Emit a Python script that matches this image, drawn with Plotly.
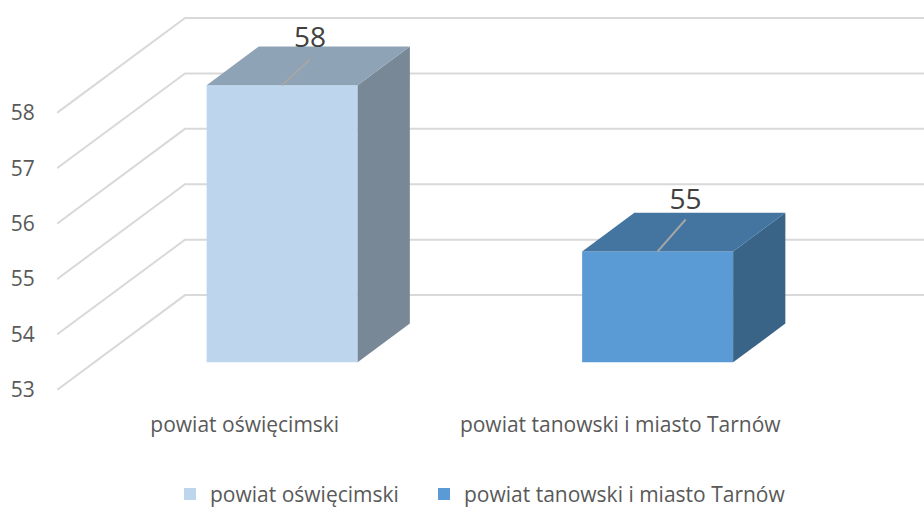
import plotly.graph_objects as go

categories = ["powiat oświęcimski", "powiat tanowski i miasto Tarnów"]
values = [58, 55]
y_ticks = [53, 54, 55, 56, 57, 58]
front_colors = ["#BDD6EE", "#5B9BD5"]
top_colors = ["#8EA3B6", "#4475A1"]
side_colors = ["#798896", "#3A6487"]

W, H = 924, 507
PX_L, PX_B = 57, 390.5
PX_PER_CAT = 375.5
PX_PER_UNIT = 55.5
# The oblique projection of the depth axis, in axis units
DX = 128 / PX_PER_CAT
DY = 95 / PX_PER_UNIT
BAR_W = 151 / PX_PER_CAT
D_FRONT, D_BACK = 0.292, 0.70
BASE = y_ticks[0]
LEGEND_LEFT_PX = [170, 424]
LEGEND_IDS = ["legend", "legend2"]


def proj(cat, val, depth):
    return cat + depth * DX, val + depth * DY


fig = go.Figure()

# Wall grid lines, kept below the bars
x_end = 1.5
for t in y_ticks:
    a = proj(-0.5, t, 0)
    b = proj(-0.5, t, 1)
    c = proj(x_end, t, 1)
    fig.add_shape(type="path", path=f"M {a[0]} {a[1]} L {b[0]} {b[1]} L {c[0]} {c[1]}",
                  line=dict(color="#D9D9D9", width=2), layer="below", xref="x", yref="y")

for i, (name, v) in enumerate(zip(categories, values)):
    xl = i - BAR_W / 2
    xr = i + BAR_W / 2
    # side face
    pts = [proj(xr, BASE, D_FRONT), proj(xr, BASE, D_BACK), proj(xr, v, D_BACK), proj(xr, v, D_FRONT)]
    fig.add_trace(go.Scatter(x=[p[0] for p in pts], y=[p[1] for p in pts], fill="toself", mode="none",
                             fillcolor=side_colors[i], showlegend=False, hoverinfo="skip"))
    # top face
    pts = [proj(xl, v, D_FRONT), proj(xl, v, D_BACK), proj(xr, v, D_BACK), proj(xr, v, D_FRONT)]
    fig.add_trace(go.Scatter(x=[p[0] for p in pts], y=[p[1] for p in pts], fill="toself", mode="none",
                             fillcolor=top_colors[i], showlegend=False, hoverinfo="skip"))
    # front face
    fx, fb = proj(i, BASE, D_FRONT)
    fig.add_trace(go.Bar(x=[fx], y=[v - BASE], base=[fb], width=[BAR_W], name=name,
                         legend=LEGEND_IDS[i],
                         marker=dict(color=front_colors[i], line=dict(width=0)),
                         hovertext=[f"{name}: {v}"], hoverinfo="text"))
    # leader line and data label
    lead_top = 26 / PX_PER_UNIT if i == 0 else 32 / PX_PER_UNIT
    label_up = 45 / PX_PER_UNIT if i == 0 else 50 / PX_PER_UNIT
    _, ft = proj(i, v, D_FRONT)
    fig.add_trace(go.Scatter(x=[fx, fx + 28 / PX_PER_CAT], y=[ft, ft + lead_top], mode="lines",
                             line=dict(color="#A6A6A6", width=2), showlegend=False, hoverinfo="skip"))
    fig.add_trace(go.Scatter(x=[fx + 28 / PX_PER_CAT], y=[ft + label_up], mode="text", text=[str(v)],
                             textposition="middle center",
                             textfont=dict(size=28, color="#404040", family="Open Sans"),
                             showlegend=False, hoverinfo="skip"))


def legend_style(left_px):
    return dict(orientation="h", x=(left_px - PX_L) / (W - PX_L), xanchor="left", y=-0.215, yanchor="top",
                font=dict(size=21, color="#595959"), bgcolor="rgba(0,0,0,0)")


fig.update_layout(
    width=W, height=H, autosize=False,
    margin=dict(l=PX_L, r=0, t=0, b=H - PX_B, autoexpand=False),
    paper_bgcolor="white", plot_bgcolor="white",
    font=dict(family="Open Sans", size=21, color="#595959"),
    barmode="overlay",
    xaxis=dict(range=[-0.5, -0.5 + (W - PX_L) / PX_PER_CAT], tickvals=[0, 1], ticktext=categories,
               showgrid=False, zeroline=False, showline=False, ticks="outside", ticklen=16,
               tickcolor="rgba(0,0,0,0)", tickfont=dict(size=21, color="#595959")),
    yaxis=dict(range=[BASE, BASE + PX_B / PX_PER_UNIT], tickvals=y_ticks, showgrid=False, zeroline=False,
               showline=False, ticks="outside", ticklen=17, tickcolor="rgba(0,0,0,0)",
               tickfont=dict(size=21, color="#595959")),
    legend=legend_style(LEGEND_LEFT_PX[0]),
    legend2=legend_style(LEGEND_LEFT_PX[1]),
)

# Remove the page's default body margin so the figure fills the window exactly
fig.write_html("out.html", config=dict(displayModeBar=False),
               post_script="document.body.style.margin='0';document.documentElement.style.overflow='hidden';")
